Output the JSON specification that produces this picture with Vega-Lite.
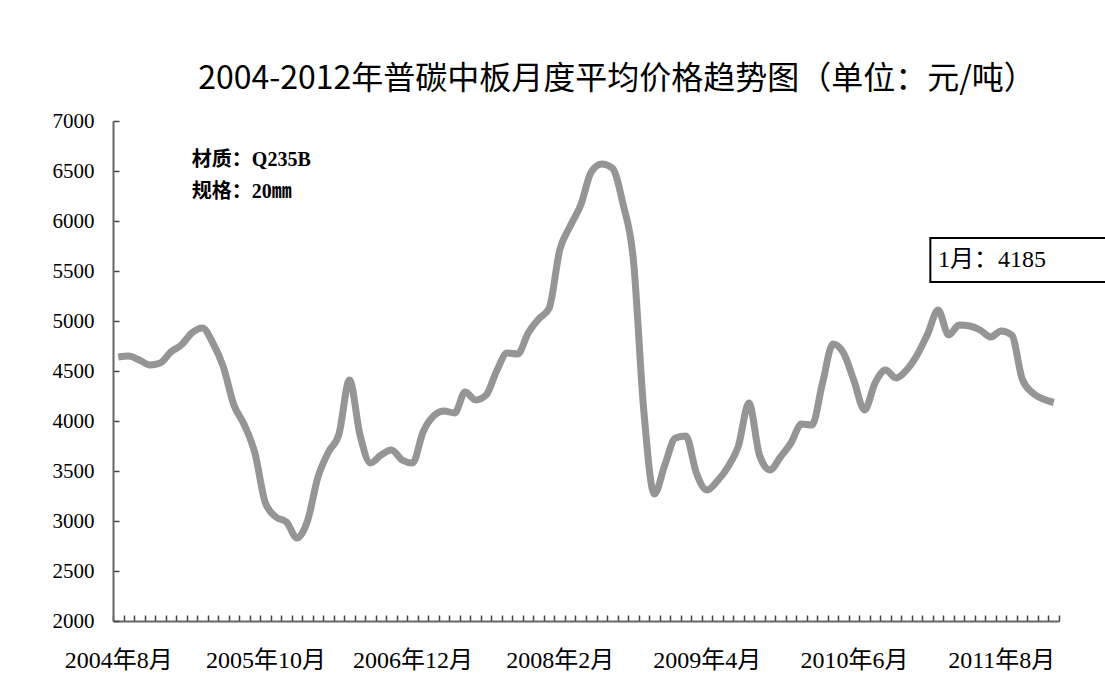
{
  "$schema": "https://vega.github.io/schema/vega-lite/v6.json",
  "width": 946,
  "height": 500,
  "autosize": {"type": "none"},
  "padding": {"left": 113, "top": 121, "right": 46, "bottom": 57},
  "background": "white",
  "title": {
    "text": "2004-2012年普碳中板月度平均价格趋势图（单位：元/吨）",
    "font": "Noto Sans CJK SC",
    "fontSize": 32,
    "fontWeight": "normal",
    "color": "black",
    "anchor": "middle",
    "dx": 31,
    "offset": 14
  },
  "config": {"view": {"stroke": null}},
  "layer": [
    {
      "data": {
        "values": [
          {"i": 0, "month": "2004-08", "price": 4640},
          {"i": 1, "month": "2004-09", "price": 4650},
          {"i": 2, "month": "2004-10", "price": 4610},
          {"i": 3, "month": "2004-11", "price": 4560},
          {"i": 4, "month": "2004-12", "price": 4580},
          {"i": 5, "month": "2005-01", "price": 4690},
          {"i": 6, "month": "2005-02", "price": 4760},
          {"i": 7, "month": "2005-03", "price": 4880},
          {"i": 8, "month": "2005-04", "price": 4930},
          {"i": 9, "month": "2005-05", "price": 4780},
          {"i": 10, "month": "2005-06", "price": 4540},
          {"i": 11, "month": "2005-07", "price": 4160},
          {"i": 12, "month": "2005-08", "price": 3960},
          {"i": 13, "month": "2005-09", "price": 3680},
          {"i": 14, "month": "2005-10", "price": 3180},
          {"i": 15, "month": "2005-11", "price": 3040},
          {"i": 16, "month": "2005-12", "price": 2990},
          {"i": 17, "month": "2006-01", "price": 2830},
          {"i": 18, "month": "2006-02", "price": 3000},
          {"i": 19, "month": "2006-03", "price": 3440},
          {"i": 20, "month": "2006-04", "price": 3690},
          {"i": 21, "month": "2006-05", "price": 3870},
          {"i": 22, "month": "2006-06", "price": 4410},
          {"i": 23, "month": "2006-07", "price": 3860},
          {"i": 24, "month": "2006-08", "price": 3580},
          {"i": 25, "month": "2006-09", "price": 3660},
          {"i": 26, "month": "2006-10", "price": 3710},
          {"i": 27, "month": "2006-11", "price": 3610},
          {"i": 28, "month": "2006-12", "price": 3580},
          {"i": 29, "month": "2007-01", "price": 3890},
          {"i": 30, "month": "2007-02", "price": 4050},
          {"i": 31, "month": "2007-03", "price": 4100},
          {"i": 32, "month": "2007-04", "price": 4080},
          {"i": 33, "month": "2007-05", "price": 4290},
          {"i": 34, "month": "2007-06", "price": 4210},
          {"i": 35, "month": "2007-07", "price": 4260},
          {"i": 36, "month": "2007-08", "price": 4500},
          {"i": 37, "month": "2007-09", "price": 4680},
          {"i": 38, "month": "2007-10", "price": 4670},
          {"i": 39, "month": "2007-11", "price": 4880},
          {"i": 40, "month": "2007-12", "price": 5020},
          {"i": 41, "month": "2008-01", "price": 5130},
          {"i": 42, "month": "2008-02", "price": 5710},
          {"i": 43, "month": "2008-03", "price": 5950},
          {"i": 44, "month": "2008-04", "price": 6160},
          {"i": 45, "month": "2008-05", "price": 6490},
          {"i": 46, "month": "2008-06", "price": 6570},
          {"i": 47, "month": "2008-07", "price": 6530},
          {"i": 48, "month": "2008-08", "price": 6180},
          {"i": 49, "month": "2008-09", "price": 5620},
          {"i": 50, "month": "2008-10", "price": 4100},
          {"i": 51, "month": "2008-11", "price": 3270},
          {"i": 52, "month": "2008-12", "price": 3560},
          {"i": 53, "month": "2009-01", "price": 3830},
          {"i": 54, "month": "2009-02", "price": 3850},
          {"i": 55, "month": "2009-03", "price": 3480},
          {"i": 56, "month": "2009-04", "price": 3310},
          {"i": 57, "month": "2009-05", "price": 3400},
          {"i": 58, "month": "2009-06", "price": 3540},
          {"i": 59, "month": "2009-07", "price": 3750},
          {"i": 60, "month": "2009-08", "price": 4180},
          {"i": 61, "month": "2009-09", "price": 3660},
          {"i": 62, "month": "2009-10", "price": 3510},
          {"i": 63, "month": "2009-11", "price": 3640},
          {"i": 64, "month": "2009-12", "price": 3780},
          {"i": 65, "month": "2010-01", "price": 3970},
          {"i": 66, "month": "2010-02", "price": 3960},
          {"i": 67, "month": "2010-03", "price": 4380},
          {"i": 68, "month": "2010-04", "price": 4770},
          {"i": 69, "month": "2010-05", "price": 4680},
          {"i": 70, "month": "2010-06", "price": 4400},
          {"i": 71, "month": "2010-07", "price": 4110},
          {"i": 72, "month": "2010-08", "price": 4380},
          {"i": 73, "month": "2010-09", "price": 4510},
          {"i": 74, "month": "2010-10", "price": 4430},
          {"i": 75, "month": "2010-11", "price": 4510},
          {"i": 76, "month": "2010-12", "price": 4660},
          {"i": 77, "month": "2011-01", "price": 4870},
          {"i": 78, "month": "2011-02", "price": 5110},
          {"i": 79, "month": "2011-03", "price": 4860},
          {"i": 80, "month": "2011-04", "price": 4960},
          {"i": 81, "month": "2011-05", "price": 4950},
          {"i": 82, "month": "2011-06", "price": 4910},
          {"i": 83, "month": "2011-07", "price": 4840},
          {"i": 84, "month": "2011-08", "price": 4900},
          {"i": 85, "month": "2011-09", "price": 4860},
          {"i": 86, "month": "2011-10", "price": 4420},
          {"i": 87, "month": "2011-11", "price": 4280},
          {"i": 88, "month": "2011-12", "price": 4220},
          {"i": 89, "month": "2012-01", "price": 4185}
        ]
      },
      "mark": {"type": "line", "color": "#959595", "strokeWidth": 7, "interpolate": "monotone"},
      "encoding": {
        "x": {
          "field": "i",
          "type": "quantitative",
          "scale": {"domain": [-0.5, 89.5], "nice": false, "zero": false},
          "axis": {
            "title": null,
            "grid": false,
            "tickCount": 200,
            "values": [-0.5, 0.5, 1.5, 2.5, 3.5, 4.5, 5.5, 6.5, 7.5, 8.5, 9.5, 10.5, 11.5, 12.5, 13.5, 14.5, 15.5, 16.5, 17.5, 18.5, 19.5, 20.5, 21.5, 22.5, 23.5, 24.5, 25.5, 26.5, 27.5, 28.5, 29.5, 30.5, 31.5, 32.5, 33.5, 34.5, 35.5, 36.5, 37.5, 38.5, 39.5, 40.5, 41.5, 42.5, 43.5, 44.5, 45.5, 46.5, 47.5, 48.5, 49.5, 50.5, 51.5, 52.5, 53.5, 54.5, 55.5, 56.5, 57.5, 58.5, 59.5, 60.5, 61.5, 62.5, 63.5, 64.5, 65.5, 66.5, 67.5, 68.5, 69.5, 70.5, 71.5, 72.5, 73.5, 74.5, 75.5, 76.5, 77.5, 78.5, 79.5, 80.5, 81.5, 82.5, 83.5, 84.5, 85.5, 86.5, 87.5, 88.5, 89.5],
            "labelExpr": "(datum.value + 0.5) % 14 == 0 ? ['2004年8月','2005年10月','2006年12月','2008年2月','2009年4月','2010年6月','2011年8月'][(datum.value + 0.5) / 14] : ''",
            "labelOffset": 5.25,
            "labelFlush": false,
            "labelOverlap": false,
            "labelBound": false,
            "labelFont": "Liberation Serif, Noto Sans CJK SC",
            "labelFontSize": 24,
            "labelColor": "black",
            "labelPadding": 33,
            "tickSize": -6,
            "tickColor": "#444444",
            "tickWidth": 1.5,
            "domainColor": "#666666",
            "domainWidth": 2
          }
        },
        "y": {
          "field": "price",
          "type": "quantitative",
          "scale": {"domain": [2000, 7000], "nice": false, "zero": false},
          "axis": {
            "title": null,
            "grid": false,
            "tickCount": 20,
            "values": [2000, 2500, 3000, 3500, 4000, 4500, 5000, 5500, 6000, 6500, 7000],
            "format": "d",
            "labelFlush": false,
            "labelOverlap": false,
            "labelFont": "Liberation Serif",
            "labelFontSize": 21,
            "labelColor": "black",
            "labelPadding": 25,
            "tickSize": -6,
            "tickColor": "#444444",
            "tickWidth": 1.5,
            "domainColor": "#666666",
            "domainWidth": 2
          }
        }
      }
    },
    {
      "data": {"values": [{"note": "材质：Q235B"}]},
      "mark": {"type": "text", "align": "left", "baseline": "middle", "font": "Liberation Serif, Noto Sans CJK SC", "fontSize": 20, "fontWeight": "bold", "color": "black"},
      "encoding": {"x": {"datum": 7}, "y": {"datum": 6610}, "text": {"field": "note"}}
    },
    {
      "data": {"values": [{"note": "规格：20㎜"}]},
      "mark": {"type": "text", "align": "left", "baseline": "middle", "font": "Liberation Serif, Noto Sans CJK SC", "fontSize": 20, "fontWeight": "bold", "color": "black"},
      "encoding": {"x": {"datum": 7}, "y": {"datum": 6290}, "text": {"field": "note"}}
    },
    {
      "data": {"values": [{"note": "1月：4185"}]},
      "mark": {"type": "rect", "fill": "white", "stroke": "black", "strokeWidth": 2},
      "encoding": {"x": {"datum": 77.26}, "x2": {"datum": 106}, "y": {"datum": 5830}, "y2": {"datum": 5390}}
    },
    {
      "data": {"values": [{"note": "1月：4185"}]},
      "mark": {"type": "text", "align": "left", "baseline": "middle", "font": "Liberation Serif, Noto Sans CJK SC", "fontSize": 24, "color": "black"},
      "encoding": {"x": {"datum": 78}, "y": {"datum": 5610}, "text": {"field": "note"}}
    }
  ]
}
